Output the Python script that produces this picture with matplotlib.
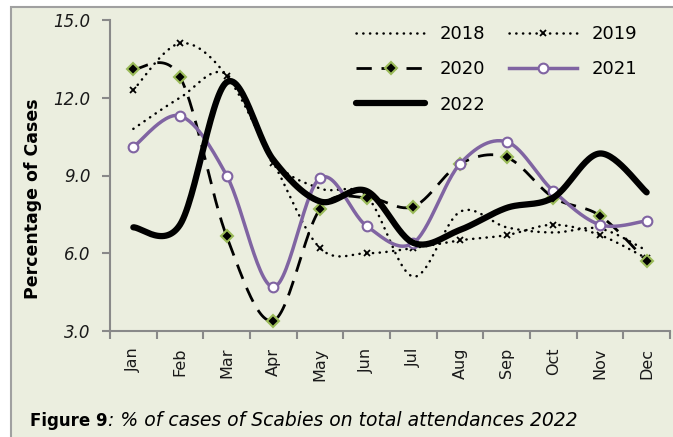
import matplotlib
matplotlib.use("Agg")
import matplotlib.pyplot as plt
from matplotlib.patches import Rectangle
import numpy as np

# data
months = ["Jan", "Feb", "Mar", "Apr", "May", "Jun", "Jul", "Aug", "Sep", "Oct", "Nov", "Dec"]
y2018 = [10.8, 12.0, 12.9, 9.6, 8.5, 8.2, 5.1, 7.6, 7.0, 6.8, 6.95, 6.1]
y2019 = [12.3, 14.1, 12.85, 9.5, 6.2, 6.0, 6.2, 6.5, 6.7, 7.1, 6.7, 5.8]
y2020 = [13.1, 12.8, 6.65, 3.4, 7.7, 8.15, 7.8, 9.45, 9.7, 8.15, 7.45, 5.7]
y2021 = [10.1, 11.3, 9.0, 4.7, 8.9, 7.05, 6.4, 9.45, 10.3, 8.4, 7.1, 7.25]
y2022 = [7.0, 7.1, 12.6, 9.6, 8.0, 8.4, 6.4, 6.9, 7.75, 8.15, 9.85, 8.35]

bg = "#EBEEDF"
axis_grey = "#898989"
purple = "#8064A2"
green = "#9BBB59"


def smooth(y, n=30):
    # Catmull-Rom style curve through the points (like Excel "smoothed line")
    x = np.arange(len(y), dtype=float)
    y = np.asarray(y, dtype=float)
    px = np.concatenate([[x[0]], x, [x[-1]]])
    py = np.concatenate([[y[0]], y, [y[-1]]])
    xs, ys = [], []
    for i in range(1, len(px) - 2):
        p0, p1, p2, p3 = [np.array([px[j], py[j]]) for j in (i - 1, i, i + 1, i + 2)]
        c1 = p1 + (p2 - p0) / 6
        c2 = p2 - (p3 - p1) / 6
        t = np.linspace(0, 1, n)[:, None]
        b = (1 - t) ** 3 * p1 + 3 * (1 - t) ** 2 * t * c1 + 3 * (1 - t) * t ** 2 * c2 + t ** 3 * p2
        xs.append(b[:, 0])
        ys.append(b[:, 1])
    return np.concatenate(xs), np.concatenate(ys)


fig = plt.figure(figsize=(6.73, 4.37), dpi=100)
fig.patch.set_facecolor("white")
fig.patches.append(Rectangle((11 / 673, -0.1), 1.2, 1 - 7 / 437 + 0.1, transform=fig.transFigure,
                             facecolor=bg, edgecolor="#A0A0A0", linewidth=1.5, zorder=-10))

ax = fig.add_axes([110 / 673, 1 - 331 / 437, 560 / 673, 311 / 437])
ax.set_facecolor("none")
x = np.arange(len(months))

dot = (0, (0.1, 2.6))
sx, sy = smooth(y2018)
h18, = ax.plot(sx, sy, color="black", lw=1.8, linestyle=dot, dash_capstyle="round", label="2018")

sx, sy = smooth(y2019)
ax.plot(sx, sy, color="black", lw=1.8, linestyle=dot, dash_capstyle="round")
ax.plot(x, y2019, linestyle="none", marker="x", ms=4, mew=1.3, color="black")
h19, = ax.plot([], [], color="black", lw=1.8, linestyle=dot, dash_capstyle="round",
               marker="x", ms=4, mew=1.3, label="2019")

sx, sy = smooth(y2020)
ax.plot(sx, sy, color="black", lw=2, linestyle=(0, (5.5, 3.5)))
ax.plot(x, y2020, linestyle="none", marker="D", ms=6, mfc="black", mec=green, mew=1.5)
h20, = ax.plot([], [], color="black", lw=2, linestyle=(0, (5.5, 3.5)), marker="D", ms=6,
               mfc="black", mec=green, mew=1.5, label="2020")

sx, sy = smooth(y2021)
ax.plot(sx, sy, color=purple, lw=2.5)
ax.plot(x, y2021, linestyle="none", marker="o", ms=7, mfc="white", mec=purple, mew=1.5)
h21, = ax.plot([], [], color=purple, lw=2.5, marker="o", ms=7, mfc="white", mec=purple,
               mew=1.5, label="2021")

sx, sy = smooth(y2022)
h22, = ax.plot(sx, sy, color="black", lw=4.5, solid_capstyle="round", label="2022")

ax.set_xlim(-0.5, 11.5)
ax.set_ylim(3, 15)
ax.set_yticks([3, 6, 9, 12, 15])
ax.set_yticklabels(["%.1f" % v for v in [3, 6, 9, 12, 15]], fontstyle="italic",
                   fontsize=12, color="#1a1a1a")
ax.set_xticks(x)
ax.set_xticklabels(months, rotation=90, fontsize=11.5, color="#1a1a1a")
ax.set_xticks(np.arange(-0.5, 12, 1), minor=True)
ax.tick_params(axis="x", which="major", length=0, pad=12)
ax.tick_params(axis="x", which="minor", length=6, color=axis_grey, width=1.5)
ax.tick_params(axis="y", length=6, color=axis_grey, width=1.5, pad=8)
for s in ["top", "right"]:
    ax.spines[s].set_visible(False)
for s in ["left", "bottom"]:
    ax.spines[s].set_color(axis_grey)
    ax.spines[s].set_linewidth(1.5)

fig.text(33 / 673, 1 - 199 / 437, "Percentage of Cases", rotation=90, fontsize=12.5,
         fontweight="bold", ha="center", va="center")

ax.legend(handles=[h18, h20, h22, h19, h21], ncol=2, frameon=False, fontsize=13,
          handlelength=3.8, handletextpad=0.8, columnspacing=1.3, labelspacing=0.95,
          loc="upper left", bbox_to_anchor=(340 / 673, 1 - 9 / 437), bbox_transform=fig.transFigure)

t1 = fig.text(30 / 673, 1 - 421 / 437, "Figure 9", fontsize=12, fontweight="bold", va="center")
fig.canvas.draw()
bb = t1.get_window_extent()
fig.text(bb.x1 / 673 + 0.001, 1 - 421 / 437, ": % of cases of Scabies on total attendances 2022",
         fontsize=13.5, fontstyle="italic", va="center")

fig.savefig("out.png", dpi=100, facecolor=fig.get_facecolor())
